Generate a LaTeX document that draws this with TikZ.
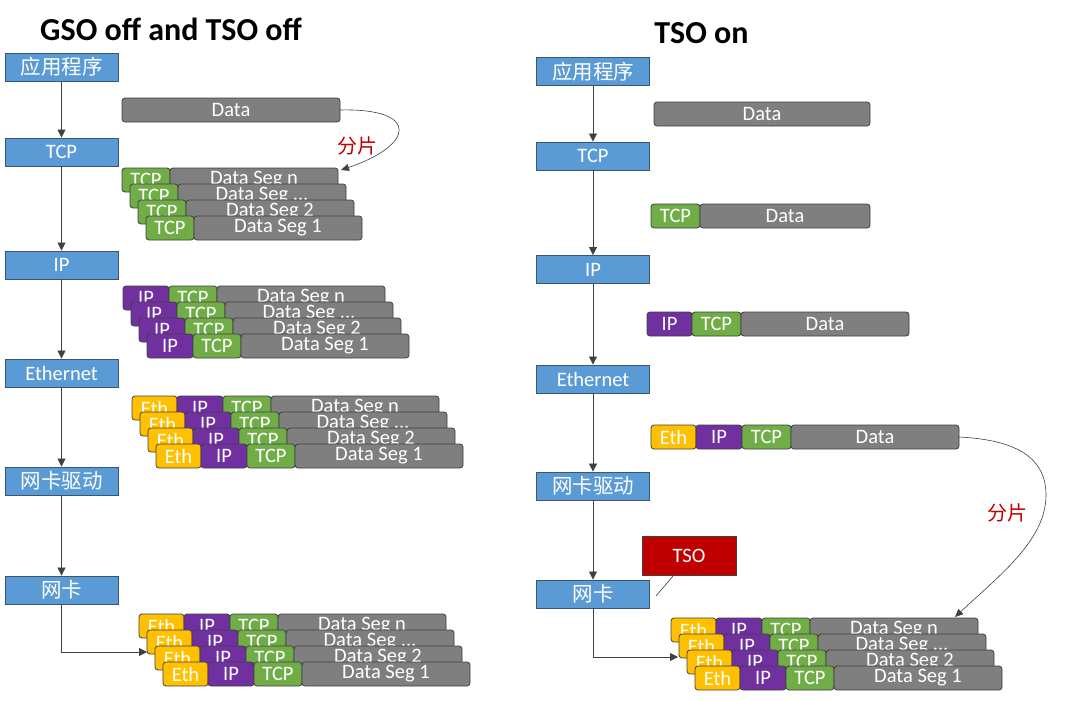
\documentclass[tikz,border=0pt]{standalone}
\usepackage{fontspec}
\setmainfont{Carlito}
\newfontfamily\cjk{Noto Sans CJK SC}
\usetikzlibrary{arrows.meta}
\definecolor{blu}{HTML}{5B9BD5}
\definecolor{blub}{HTML}{3A5674}
\definecolor{grn}{HTML}{70AD47}
\definecolor{pur}{HTML}{7030A0}
\definecolor{ylw}{HTML}{FFC000}
\definecolor{gry}{HTML}{7F7F7F}
\definecolor{redb}{HTML}{C00000}
\definecolor{lin}{HTML}{404040}
\tikzset{
  seg/.style={draw=lin, line width=0.8pt, rounded corners=3pt, anchor=north west,
    minimum height=24pt, inner sep=0pt, outer sep=0pt, text=white,
    font=\fontsize{20.5}{24}\selectfont},
  blk/.style={draw=blub, line width=0.9pt, fill=blu, minimum width=113pt, minimum height=28pt,
    inner sep=0pt, text=white, font=\fontsize{20.5}{24}\selectfont},
  arr/.style={draw=lin, line width=0.8pt, -{Triangle[length=8pt,width=8pt]}},
  curv/.style={draw=lin, line width=0.6pt, -{Triangle[length=8pt,width=7pt]}},
  lab/.style={text=redb, font=\cjk\fontsize{20}{24}\selectfont},
  ttl/.style={font=\bfseries\fontsize{32}{38}\selectfont},
}
\newcommand\rowE[4]{%
  \node[seg,fill=ylw,minimum width=45pt] (#1e) at (#2,#3) {Eth};
  \node[seg,fill=pur,minimum width=46pt] (#1i) at (#1e.north east) {IP};
  \node[seg,fill=grn,minimum width=48pt] (#1t) at (#1i.north east) {TCP};
  \node[seg,fill=gry,minimum width=168pt] (#1d) at (#1t.north east) {#4};}
\newcommand\rowI[4]{%
  \node[seg,fill=pur,minimum width=46pt] (#1i) at (#2,#3) {IP};
  \node[seg,fill=grn,minimum width=48pt] (#1t) at (#1i.north east) {TCP};
  \node[seg,fill=gry,minimum width=168pt] (#1d) at (#1t.north east) {#4};}
\newcommand\rowT[4]{%
  \node[seg,fill=grn,minimum width=48pt] (#1t) at (#2,#3) {TCP};
  \node[seg,fill=gry,minimum width=168pt] (#1d) at (#1t.north east) {#4};}
\begin{document}
\begin{tikzpicture}[x=1pt,y=-1pt]
\useasboundingbox[fill=white] (0,0) rectangle (1076,701);

% ---------------- titles
\node[ttl] (t1) at (171,29) {GSO off and TSO off};
\node[ttl] (t2) at (701.5,33) {TSO on};

% ---------------- left column
\node[blk] (La) at (61.5,67) {\cjk 应用程序};
\node[blk] (Lt) at (61.5,152) {TCP};
\node[blk] (Li) at (61.5,265) {IP};
\node[blk] (Le) at (61.5,373) {Ethernet};
\node[blk] (Ld) at (61.5,481) {\cjk 网卡驱动};
\node[blk] (Ln) at (61.5,590) {\cjk 网卡};
\draw[arr] (La) -- (Lt);
\draw[arr] (Lt) -- (Li);
\draw[arr] (Li) -- (Le);
\draw[arr] (Le) -- (Ld);
\draw[arr] (Ld) -- (Ln);

\node[seg,fill=gry,minimum width=218pt] (LD) at (122,98) {Data};

\rowT{LTn}{122}{168}{Data Seg n}
\rowT{LTx}{130}{184}{Data Seg ...}
\rowT{LTb}{138}{200}{Data Seg 2}
\rowT{LTa}{146}{216}{Data Seg 1}

\rowI{LIn}{123}{286}{Data Seg n}
\rowI{LIx}{131}{302}{Data Seg ...}
\rowI{LIb}{139}{318}{Data Seg 2}
\rowI{LIa}{147}{334}{Data Seg 1}

\rowE{LEn}{132}{396}{Data Seg n}
\rowE{LEx}{140}{412}{Data Seg ...}
\rowE{LEb}{148}{428}{Data Seg 2}
\rowE{LEa}{156}{444}{Data Seg 1}

\rowE{LBn}{139}{614}{Data Seg n}
\rowE{LBx}{147}{630}{Data Seg ...}
\rowE{LBb}{155}{646}{Data Seg 2}
\rowE{LBa}{163}{662}{Data Seg 1}

\coordinate (Lcur) at (341,170);
\draw[curv] (LD.east) .. controls (420,108) and (415,145) .. (Lcur);
\node[lab] (lab1) at (357,146) {分片};

\coordinate (Lend) at (147,652);
\draw[arr] (Ln.south) |- (Lend);

% ---------------- right column
\node[blk] (Ra) at (593,71.5) {\cjk 应用程序};
\node[blk] (Rt) at (593,156) {TCP};
\node[blk] (Ri) at (593,269.5) {IP};
\node[blk] (Re) at (593,379) {Ethernet};
\node[blk] (Rd) at (593,486) {\cjk 网卡驱动};
\node[blk] (Rn) at (593,594) {\cjk 网卡};
\draw[arr] (Ra) -- (Rt);
\draw[arr] (Rt) -- (Ri);
\draw[arr] (Ri) -- (Re);
\draw[arr] (Re) -- (Rd);
\draw[arr] (Rd) -- (Rn);

\node[seg,fill=gry,minimum width=216pt] (RD) at (654,102) {Data};

\node[seg,fill=grn,minimum width=49pt] (R2t) at (651,204) {TCP};
\node[seg,fill=gry,minimum width=170pt] (R2d) at (R2t.north east) {Data};

\node[seg,fill=pur,minimum width=45pt] (R3i) at (647,312) {IP};
\node[seg,fill=grn,minimum width=49pt] (R3t) at (R3i.north east) {TCP};
\node[seg,fill=gry,minimum width=168pt] (R3d) at (R3t.north east) {Data};

\node[seg,fill=ylw,minimum width=45pt] (R4e) at (651,425) {Eth};
\node[seg,fill=pur,minimum width=46pt] (R4i) at (R4e.north east) {IP};
\node[seg,fill=grn,minimum width=49pt] (R4t) at (R4i.north east) {TCP};
\node[seg,fill=gry,minimum width=168pt] (R4d) at (R4t.north east) {Data};

\rowE{RBn}{671}{618}{Data Seg n}
\rowE{RBx}{679}{634}{Data Seg ...}
\rowE{RBb}{687}{650}{Data Seg 2}
\rowE{RBa}{695}{666}{Data Seg 1}

\coordinate (Rcur) at (955,617);
\draw[curv] (R4d.east) .. controls (1020,440) and (1046,460) .. (1046,495)
  .. controls (1046,540) and (1000,575) .. (Rcur);
\node[lab] (lab2) at (1007,513) {分片};

\node[draw=lin, line width=0.8pt, fill=redb, minimum width=94pt, minimum height=39pt,
  inner sep=0pt, text=white, font=\fontsize{20.5}{24}\selectfont] (tso) at (689,555.5) {TSO};
\coordinate (tsoA) at (673,576);
\coordinate (tsoB) at (656,596);
\draw[draw=lin, line width=0.6pt] (tsoA) -- (tsoB);

\coordinate (Rend) at (678,657);
\draw[arr] (Rn.south) |- (Rend);
\end{tikzpicture}
\end{document}
